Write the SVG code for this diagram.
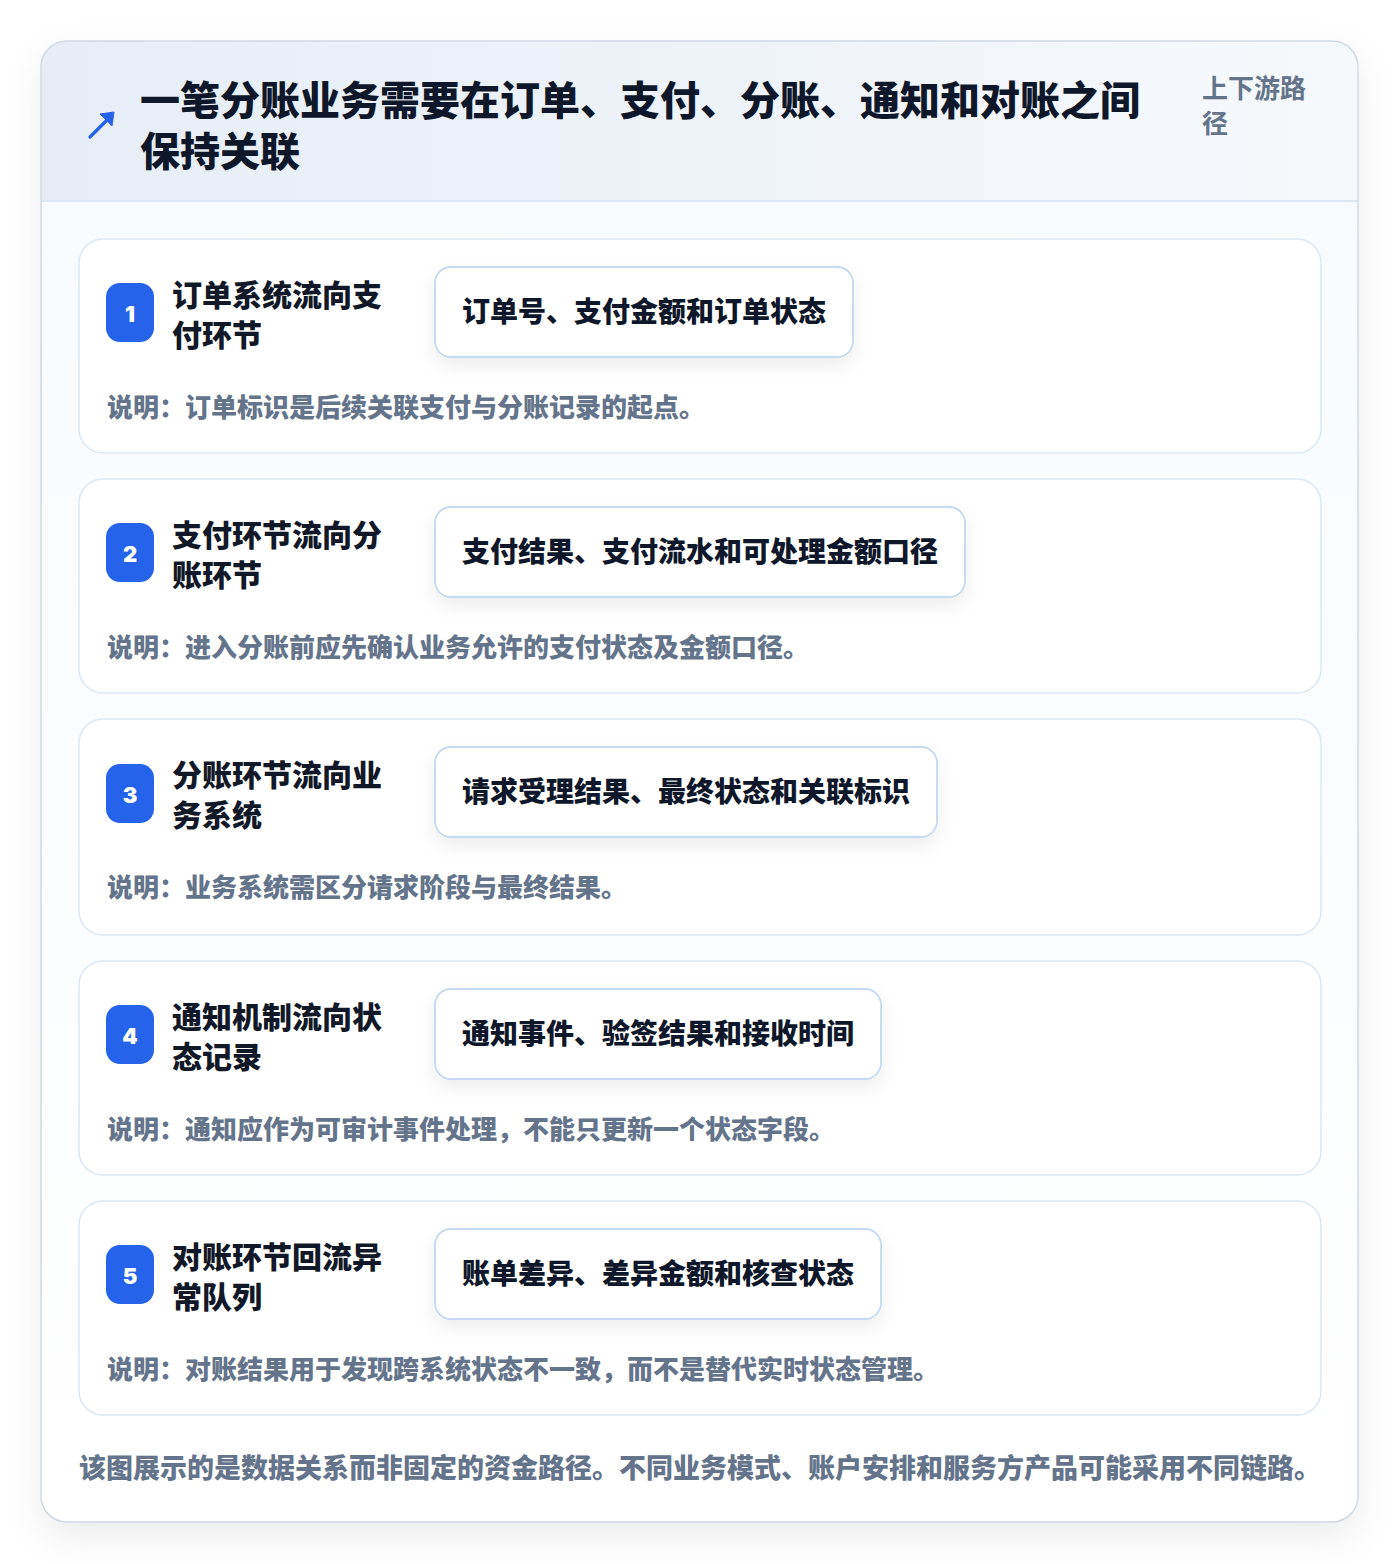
<svg xmlns="http://www.w3.org/2000/svg" width="1400" height="1564" viewBox="0 0 1400 1564">
<defs>
<linearGradient id="hdr" x1="0" y1="0" x2="1" y2="0"><stop offset="0" stop-color="#e6edf6"/><stop offset="1" stop-color="#f6f9fc"/></linearGradient>
<linearGradient id="body" x1="0" y1="0" x2="0" y2="1"><stop offset="0" stop-color="#f7fafd"/><stop offset="1" stop-color="#ffffff"/></linearGradient>
<filter id="outerShadow" x="-10%" y="-10%" width="120%" height="120%"><feDropShadow dx="0" dy="14" stdDeviation="18" flood-color="#0f172a" flood-opacity="0.08"/></filter>
<filter id="pillShadow" x="-10%" y="-30%" width="120%" height="170%"><feDropShadow dx="0" dy="8" stdDeviation="9" flood-color="#0f172a" flood-opacity="0.07"/></filter>
<clipPath id="outerClip"><rect x="41" y="41" width="1317" height="1481" rx="26"/></clipPath>
</defs>
<style>
text{font-family:"Noto Sans CJK SC","Noto Sans",sans-serif}
.h1{font-size:40px;font-weight:900;fill:#0f172a}
.tag{font-size:26px;font-weight:700;fill:#64748b}
.card{fill:#ffffff;stroke:#dbe7f5;stroke-width:1.5}
.badge{fill:#2563eb}
.num{font-family:Inter,"Noto Sans",sans-serif;font-size:22px;font-weight:900;fill:#ffffff}
.ttl{font-size:30px;font-weight:900;fill:#111827}
.pill{fill:#ffffff;stroke:#c5d9f3;stroke-width:1.8}
.ptx{font-size:28px;font-weight:900;fill:#0f172a}
.desc{font-size:26px;font-weight:800;fill:#64748b}
.foot{font-size:27px;font-weight:800;fill:#64748b}
</style>
<rect width="1400" height="1564" fill="#ffffff"/>
<g id="outer">
<rect x="41" y="41" width="1317" height="1481" rx="26" fill="#ffffff" filter="url(#outerShadow)"/>
<g clip-path="url(#outerClip)">
<rect x="41" y="41" width="1317" height="1481" fill="url(#body)"/>
<rect x="41" y="41" width="1317" height="160" fill="url(#hdr)"/>
<line x1="41" y1="201" x2="1358" y2="201" stroke="#dbe7f5" stroke-width="2"/>
</g>
<rect x="41" y="41" width="1317" height="1481" rx="26" fill="none" stroke="#d0d9e5" stroke-width="1.5"/>
</g>
<g id="header">
<line x1="90" y1="137" x2="108" y2="119" stroke="#2563eb" stroke-width="3.2" stroke-linecap="round"/>
<polygon points="114,112 112,126 100,114" fill="#2563eb" stroke="#2563eb" stroke-width="1" stroke-linejoin="round"/>
<text class="h1" x="140" y="115">一笔分账业务需要在订单、支付、分账、通知和对账之间</text>
<text class="h1" x="140" y="166">保持关联</text>
<text class="tag" x="1202" y="98">上下游路</text>
<text class="tag" x="1202" y="133">径</text>
</g>
<g id="connectors"></g>
<g id="node1">
<rect class="card" x="79" y="239" width="1242" height="214" rx="24"/>
<rect class="badge" x="106" y="283" width="48" height="59" rx="14"/>
<text class="num" x="130" y="322" text-anchor="middle">1</text>
<text class="ttl" x="172" y="306">订单系统流向支</text>
<text class="ttl" x="172" y="346">付环节</text>
<rect class="pill" x="435" y="267" width="418" height="90" rx="16" filter="url(#pillShadow)"/>
<text class="ptx" x="462" y="322">订单号、支付金额和订单状态</text>
<text class="desc" x="107" y="417">说明：订单标识是后续关联支付与分账记录的起点。</text>
</g>
<g id="node2">
<rect class="card" x="79" y="479" width="1242" height="214" rx="24"/>
<rect class="badge" x="106" y="523" width="48" height="59" rx="14"/>
<text class="num" x="130" y="562" text-anchor="middle">2</text>
<text class="ttl" x="172" y="546">支付环节流向分</text>
<text class="ttl" x="172" y="586">账环节</text>
<rect class="pill" x="435" y="507" width="530" height="90" rx="16" filter="url(#pillShadow)"/>
<text class="ptx" x="462" y="562">支付结果、支付流水和可处理金额口径</text>
<text class="desc" x="107" y="657">说明：进入分账前应先确认业务允许的支付状态及金额口径。</text>
</g>
<g id="node3">
<rect class="card" x="79" y="719" width="1242" height="216" rx="24"/>
<rect class="badge" x="106" y="764" width="48" height="59" rx="14"/>
<text class="num" x="130" y="803" text-anchor="middle">3</text>
<text class="ttl" x="172" y="786">分账环节流向业</text>
<text class="ttl" x="172" y="826">务系统</text>
<rect class="pill" x="435" y="747" width="502" height="90" rx="16" filter="url(#pillShadow)"/>
<text class="ptx" x="462" y="802">请求受理结果、最终状态和关联标识</text>
<text class="desc" x="107" y="897">说明：业务系统需区分请求阶段与最终结果。</text>
</g>
<g id="node4">
<rect class="card" x="79" y="961" width="1242" height="214" rx="24"/>
<rect class="badge" x="106" y="1005" width="48" height="59" rx="14"/>
<text class="num" x="130" y="1044" text-anchor="middle">4</text>
<text class="ttl" x="172" y="1028">通知机制流向状</text>
<text class="ttl" x="172" y="1068">态记录</text>
<rect class="pill" x="435" y="989" width="446" height="90" rx="16" filter="url(#pillShadow)"/>
<text class="ptx" x="462" y="1044">通知事件、验签结果和接收时间</text>
<text class="desc" x="107" y="1139">说明：通知应作为可审计事件处理，不能只更新一个状态字段。</text>
</g>
<g id="node5">
<rect class="card" x="79" y="1201" width="1242" height="214" rx="24"/>
<rect class="badge" x="106" y="1245" width="48" height="59" rx="14"/>
<text class="num" x="130" y="1284" text-anchor="middle">5</text>
<text class="ttl" x="172" y="1268">对账环节回流异</text>
<text class="ttl" x="172" y="1308">常队列</text>
<rect class="pill" x="435" y="1229" width="446" height="90" rx="16" filter="url(#pillShadow)"/>
<text class="ptx" x="462" y="1284">账单差异、差异金额和核查状态</text>
<text class="desc" x="107" y="1379">说明：对账结果用于发现跨系统状态不一致，而不是替代实时状态管理。</text>
</g>
<g id="footer">
<text class="foot" x="79" y="1478">该图展示的是数据关系而非固定的资金路径。不同业务模式、账户安排和服务方产品可能采用不同链路。</text>
</g>
</svg>
